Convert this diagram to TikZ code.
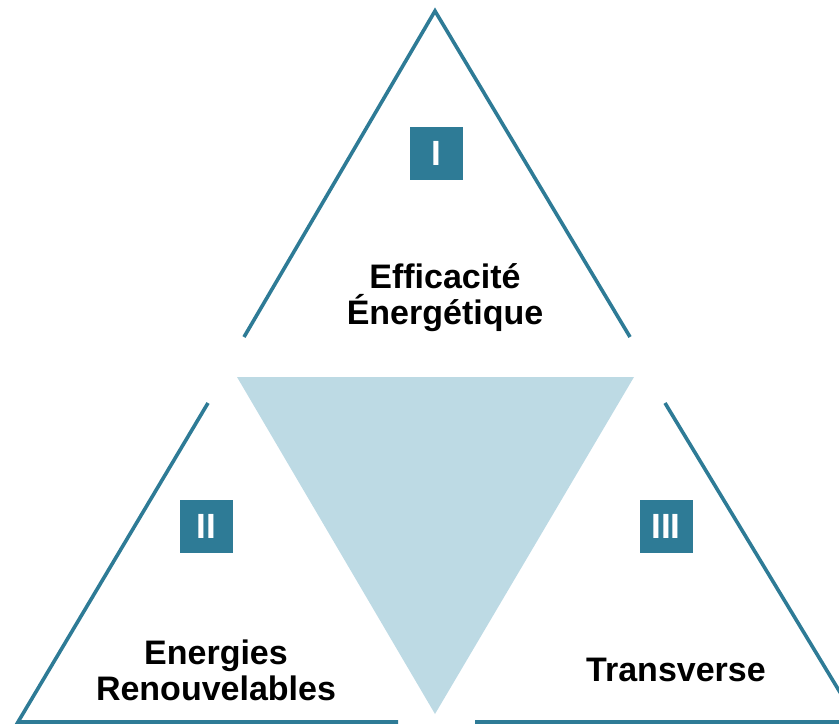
\documentclass[tikz,border=0pt]{standalone}
\usepackage{fontspec}
\setmainfont{Liberation Sans}
\definecolor{petrol}{HTML}{2E7B96}
\definecolor{sky}{HTML}{BDDAE4}
\tikzset{
  edge/.style={petrol,line width=3.6pt},
  numbox/.style={fill=petrol,text=white,minimum size=53pt,inner sep=0pt,
    font=\fontsize{35}{36}\selectfont\bfseries},
  domaintext/.style={align=center,inner sep=0pt,
    font=\fontsize{34}{36}\selectfont\bfseries}
}
\begin{document}
\begin{tikzpicture}[x=1pt,y=-1pt]
\useasboundingbox (0,0) rectangle (839,726);
\fill[sky](237,377)--(634,377)--(435,714)--cycle; % middle, upside down
\draw[edge](244,337)--(435,11)--(630,337);
\draw[edge](208,403)--(18,722)--(398,722);
\draw[edge](475,722)--(858,722)--(665,403);
\node[numbox] (num1) at (436.5,153.5) {I};
\node[numbox] (num2) at (206.5,526.5) {II};
\node[numbox] (num3) at (666,526.5) {III};
\node[domaintext] (dom1) at (445,298) {Efficacité\\Énergétique};
\node[domaintext] (dom2) at (216,670) {Energies\\Renouvelables};
\node[domaintext] (dom3) at (676,670) {Transverse};
\end{tikzpicture}
\end{document}
